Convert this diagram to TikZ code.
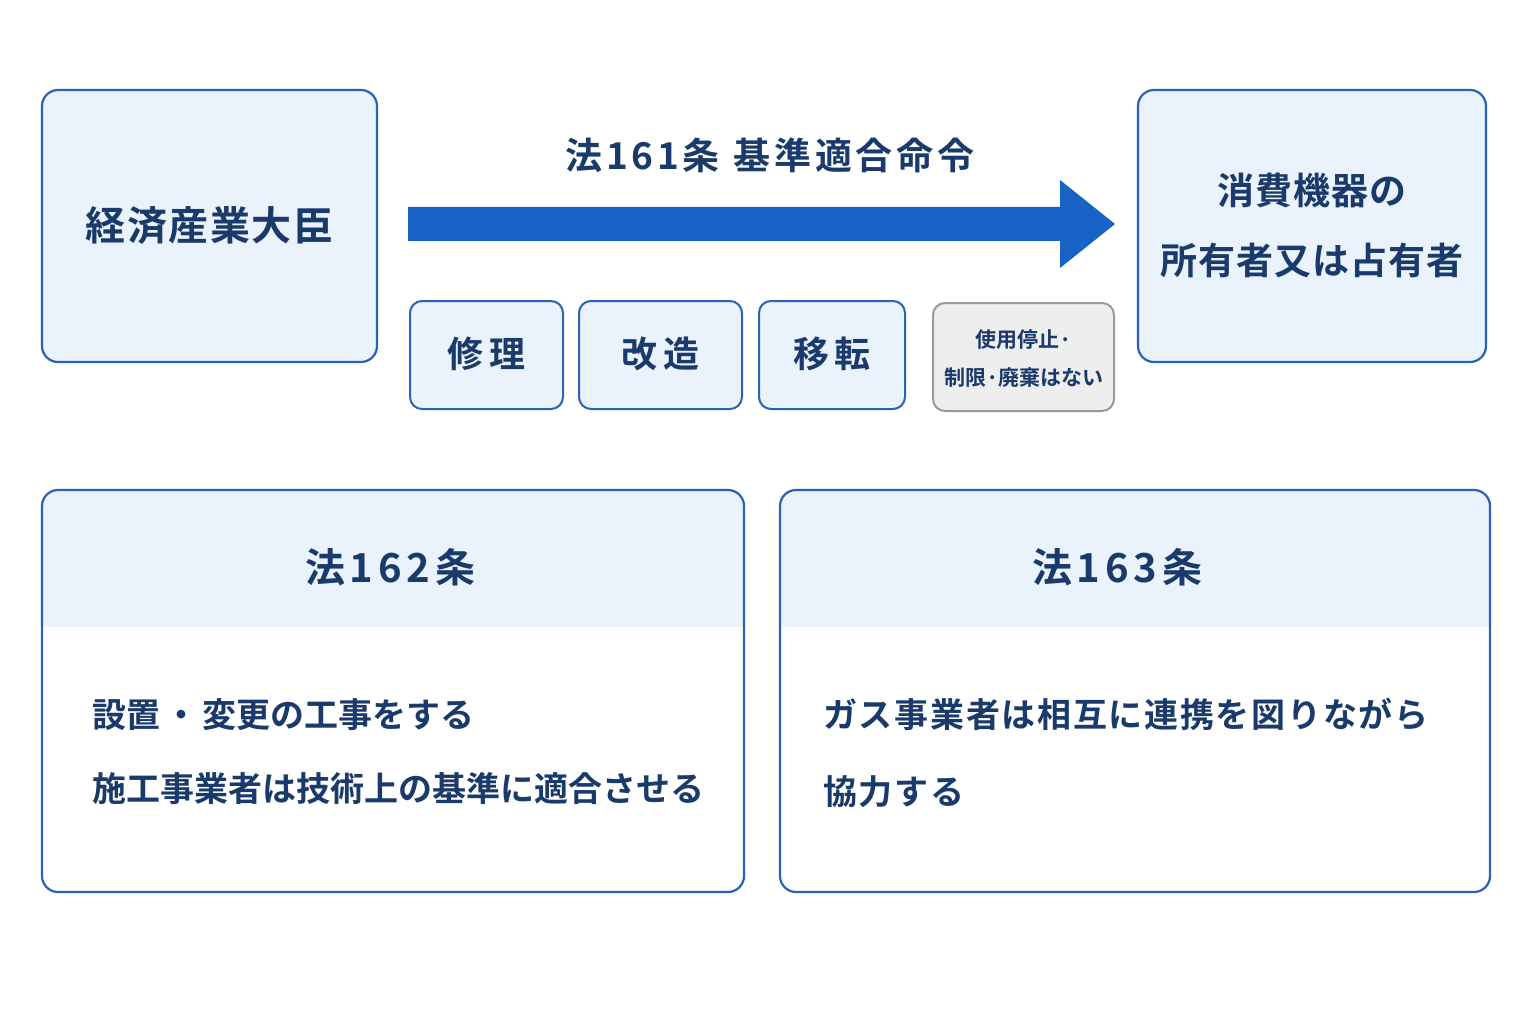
\documentclass[tikz,border=0pt]{standalone}
\usepackage{fontspec}
\setmainfont{Noto Sans CJK JP}[BoldFont={* Bold}]
\definecolor{bfill}{HTML}{EAF2FC}
\definecolor{bline}{HTML}{2A62B8}
\definecolor{txt}{HTML}{1A3A6B}
\definecolor{arr}{HTML}{1A63C6}
\definecolor{gfill}{HTML}{EEEEEE}
\definecolor{gline}{HTML}{9A9A9A}
\newcommand{\ls}[1]{\addfontfeature{LetterSpace=#1}}
\begin{document}
\begin{tikzpicture}[x=1pt,y=-1pt,
 box/.style={draw=bline,line width=2.2pt,fill=bfill,rounded corners=16pt},
 sbox/.style={draw=bline,line width=2pt,fill=bfill,rounded corners=12pt},
 t/.style={text=txt,font=\bfseries,inner sep=0pt}]
\useasboundingbox (0,0) rectangle (1536,1024);
\fill[white] (0,0) rectangle (1536,1024);
\draw[box] (42,90) rectangle (377,362);
\node[t,font=\bfseries\fontsize{40}{48}\selectfont\ls{4}] (a) at (209.5,226) {経済産業大臣};
\draw[box] (1138,90) rectangle (1486,362);
\node[t,font=\bfseries\fontsize{37}{70}\selectfont\ls{3},align=center] (b) at (1312,226) {消費機器の\\所有者又は占有者};
\fill[arr] (408,207) -- (1060,207) -- (1060,180) -- (1115,224) -- (1060,268) -- (1060,241) -- (408,241) -- cycle;
\node[t,font=\bfseries\fontsize{37}{40}\selectfont\ls{10}] (l) at (770,155) {法161条\hspace{14pt}基準適合命令};
\draw[sbox] (410,301) rectangle (563,409); \node[t,font=\bfseries\fontsize{36}{40}\selectfont] at (486.5,354) {修\,理};
\draw[sbox] (579,301) rectangle (742,409); \node[t,font=\bfseries\fontsize{36}{40}\selectfont] at (660.5,354) {改\,造};
\draw[sbox] (759,301) rectangle (905,409); \node[t,font=\bfseries\fontsize{36}{40}\selectfont] at (832,354) {移\,転};
\draw[draw=gline,line width=2pt,fill=gfill,rounded corners=12pt] (933,303) rectangle (1114,411);
\node[t,font=\bfseries\fontsize{21}{38}\selectfont,align=center] at (1024,359) {使用停止·\\制限·廃棄はない};
% bottom left
\begin{scope}\clip[rounded corners=16pt] (42,490) rectangle (744,892);
\fill[bfill] (42,490) rectangle (744,627);\end{scope}
\draw[bline,line width=2.2pt,rounded corners=16pt] (42,490) rectangle (744,892);
\node[t,font=\bfseries\fontsize{40}{48}\selectfont\ls{12}] at (390,567) {法162条};
\node[t,font=\bfseries\fontsize{34}{74}\selectfont,align=left,anchor=west] at (92,752) {設置\hspace{4pt}・\hspace{4pt}変更の工事をする\\施工事業者は技術上の基準に適合させる};
% bottom right
\begin{scope}\clip[rounded corners=16pt] (780,490) rectangle (1490,892);
\fill[bfill] (780,490) rectangle (1490,627);\end{scope}
\draw[bline,line width=2.2pt,rounded corners=16pt] (780,490) rectangle (1490,892);
\node[t,font=\bfseries\fontsize{40}{48}\selectfont\ls{12}] at (1117,567) {法163条};
\node[t,font=\bfseries\fontsize{34}{77}\selectfont\ls{5},align=left,anchor=west] at (823,753) {ガス事業者は相互に連携を図りながら\\協力する};
\end{tikzpicture}
\end{document}
